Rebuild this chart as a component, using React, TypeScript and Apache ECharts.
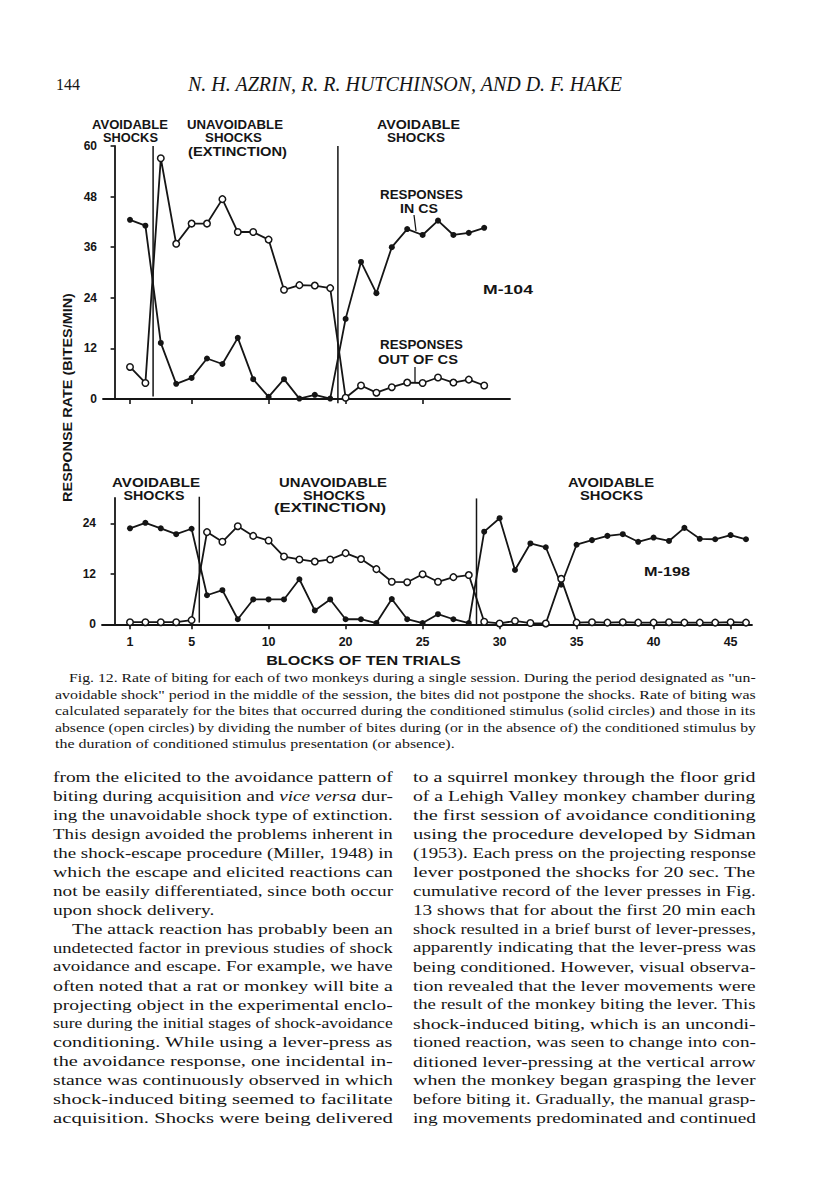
import React, { useEffect, useRef } from "react";
import * as echarts from "echarts";

// ---------------- data ----------------
// M-104 (upper panel), blocks 1..24
const topInCS = [42.5, 41.1, 13.3, 3.6, 5.0, 9.6, 8.3, 14.5, 4.7, 0.5, 4.7, 0.1, 1.0, 0.1, 19.0, 32.5, 25.1, 36.0, 40.3, 38.9, 42.3, 38.9, 39.4, 40.6];
const topOutCS = [7.6, 3.8, 57.1, 36.8, 41.6, 41.6, 47.4, 39.6, 39.6, 37.8, 25.9, 27.0, 26.9, 26.3, 0.3, 3.2, 1.5, 2.8, 3.9, 3.8, 5.1, 3.9, 4.6, 3.2];
// M-198 (lower panel), blocks 1..41
const bottomInCS = [22.8, 24.1, 22.8, 21.4, 22.7, 6.9, 8.1, 1.2, 5.9, 5.9, 5.9, 10.7, 3.3, 5.9, 1.2, 1.2, 0.3, 6.0, 1.2, 0.3, 2.4, 1.2, 0.3, 22.0, 25.2, 12.9, 19.2, 18.3, 9.4, 18.9, 20.0, 21.0, 21.4, 19.6, 20.6, 19.8, 22.9, 20.3, 20.2, 21.2, 20.2];
const bottomOutCS = [0.5, 0.5, 0.5, 0.5, 1.0, 21.9, 19.6, 23.3, 21.0, 19.9, 16.1, 15.4, 14.9, 15.4, 16.9, 15.5, 13.1, 10.1, 10.0, 11.9, 10.1, 11.2, 11.7, 0.6, 0.2, 0.8, 0.3, 0.2, 10.8, 0.4, 0.5, 0.4, 0.5, 0.4, 0.4, 0.5, 0.4, 0.4, 0.4, 0.5, 0.4];

const topTickBlocks = [1, 5, 10, 15, 20];
const bottomTickBlocks = [1, 5, 10, 15, 20, 25, 30, 35, 40];
const bottomTickLabels = ["1", "5", "10", "20", "25", "30", "35", "40", "45"];
const topYTicks = [0, 12, 24, 36, 48, 60];
const bottomYTicks = [0, 12, 24];

// phase boundaries (block position, [low, high] extent)
const topPhaseBreaks = [2.5, 14.5];
const topBreakSpans = [[0.6, 60], [-1, 60]];
const bottomPhaseBreaks = [5.5, 23.5];
const bottomBreakSpans = [[0.4, 30.3], [-0.3, 29.9]];

// ---------------- page text ----------------
const pageNumber = "144";
const runningHead = "N. H. AZRIN, R. R. HUTCHINSON, AND D. F. HAKE";
const yTitle = "RESPONSE RATE (BITES/MIN)";
const xTitle = "BLOCKS OF TEN TRIALS";

const captionLines = [
  'Fig. 12. Rate of biting for each of two monkeys during a single session. During the period designated as "un-',
  'avoidable shock" period in the middle of the session, the bites did not postpone the shocks. Rate of biting was',
  "calculated separately for the bites that occurred during the conditioned stimulus (solid circles) and those in its",
  "absence (open circles) by dividing the number of bites during (or in the absence of) the conditioned stimulus by",
  "the duration of conditioned stimulus presentation (or absence).",
];

const leftColumn = [
  "from the elicited to the avoidance pattern of",
  "biting during acquisition and *vice versa* dur-",
  "ing the unavoidable shock type of extinction.",
  "This design avoided the problems inherent in",
  "the shock-escape procedure (Miller, 1948) in",
  "which the escape and elicited reactions can",
  "not be easily differentiated, since both occur",
  "upon shock delivery.",
  "The attack reaction has probably been an",
  "undetected factor in previous studies of shock",
  "avoidance and escape. For example, we have",
  "often noted that a rat or monkey will bite a",
  "projecting object in the experimental enclo-",
  "sure during the initial stages of shock-avoidance",
  "conditioning. While using a lever-press as",
  "the avoidance response, one incidental in-",
  "stance was continuously observed in which",
  "shock-induced biting seemed to facilitate",
  "acquisition. Shocks were being delivered",
];

const rightColumn = [
  "to a squirrel monkey through the floor grid",
  "of a Lehigh Valley monkey chamber during",
  "the first session of avoidance conditioning",
  "using the procedure developed by Sidman",
  "(1953). Each press on the projecting response",
  "lever postponed the shocks for 20 sec. The",
  "cumulative record of the lever presses in Fig.",
  "13 shows that for about the first 20 min each",
  "shock resulted in a brief burst of lever-presses,",
  "apparently indicating that the lever-press was",
  "being conditioned. However, visual observa-",
  "tion revealed that the lever movements were",
  "the result of the monkey biting the lever. This",
  "shock-induced biting, which is an uncondi-",
  "tioned reaction, was seen to change into con-",
  "ditioned lever-pressing at the vertical arrow",
  "when the monkey began grasping the lever",
  "before biting it. Gradually, the manual grasp-",
  "ing movements predominated and continued",
];

const INK = "#151515";
const SANS = "Liberation Sans, Arial, sans-serif";
const SERIF = "Liberation Serif, Times New Roman, serif";

export default function App() {
  const ref = useRef<HTMLDivElement>(null);

  useEffect(() => {
    const el = ref.current;
    if (!el) return;
    const chart = echarts.init(el, null, { renderer: "svg", width: 816, height: 1200 });

    const canvas = document.createElement("canvas");
    const ctx = canvas.getContext("2d") as CanvasRenderingContext2D;
    const measure = (t: string, font: string) => {
      ctx.font = font;
      return ctx.measureText(t).width;
    };
    const parseSegs = (line: string) =>
      line
        .split("*")
        .map((t, i) => ({ t, it: i % 2 === 1 }))
        .filter((s) => s.t.length > 0);

    const els: any[] = [];

    const addBlock = (
      lines: string[],
      x0: number,
      y0: number,
      lh: number,
      W: number,
      size: number,
      noJustify: number[],
      indents: Record<number, number>
    ) => {
      const fN = `${size}px ${SERIF}`;
      const fI = `italic ${size}px ${SERIF}`;
      const widths = lines.map((l) =>
        parseSegs(l).reduce((a, s) => a + measure(s.t, s.it ? fI : fN), 0)
      );
      const ks = lines
        .map((_, i) => (W - (indents[i] || 0)) / widths[i])
        .filter((_, i) => noJustify.indexOf(i) < 0)
        .sort((a, b) => a - b);
      const k0 = ks[Math.floor(ks.length / 2)];
      lines.forEach((l, i) => {
        const ind = indents[i] || 0;
        const k = noJustify.indexOf(i) >= 0 ? k0 : (W - ind) / widths[i];
        const segs = parseSegs(l);
        const hasIt = segs.some((s) => s.it);
        const text = segs.map((s) => (s.it ? `{i|${s.t}}` : s.t)).join("");
        const style: any = {
          text,
          fontSize: size,
          fontFamily: SERIF,
          fill: INK,
          align: "left",
          verticalAlign: "middle",
          textAlign: "left",
          textVerticalAlign: "middle",
        };
        if (hasIt) {
          style.rich = {
            i: { fontStyle: "italic", fontSize: size, fontFamily: SERIF, fill: INK },
          };
        }
        els.push({ type: "text", x: x0 + ind, y: y0 + i * lh, scaleX: k, silent: true, z: 10, style });
      });
    };

    // running head
    els.push({
      type: "text", x: 56, y: 84, silent: true,
      style: { text: pageNumber, fontSize: 16, fontFamily: SERIF, fill: INK, align: "left", verticalAlign: "middle", textAlign: "left", textVerticalAlign: "middle" },
    });
    const headW = measure(runningHead, `italic 17px ${SERIF}`);
    const headSize = Math.max(14, Math.min(20, (17 * 456) / headW));
    els.push({
      type: "text", x: 405, y: 84, silent: true,
      style: { text: runningHead, fontSize: headSize, fontStyle: "italic", fontFamily: SERIF, fill: INK, align: "center", verticalAlign: "middle", textAlign: "center", textVerticalAlign: "middle" },
    });

    // chart annotations: centre x, y, font size, printed width
    const lab = (text: string, x: number, y: number, size: number, w: number, rotation = 0) => {
      const nat = measure(text, `bold ${size}px ${SANS}`);
      els.push({
        type: "text", x, y, rotation, scaleX: w / nat, silent: true, z: 5,
        style: { text, fontSize: size, fontWeight: "bold", fontFamily: SANS, fill: INK, align: "center", verticalAlign: "middle", textAlign: "center", textVerticalAlign: "middle" },
      });
    };
    // upper panel
    lab("AVOIDABLE", 130, 125, 12.5, 76);
    lab("SHOCKS", 130.5, 138, 12.5, 55);
    lab("UNAVOIDABLE", 235, 125, 12.5, 96);
    lab("SHOCKS", 233.5, 138, 12.5, 57);
    lab("(EXTINCTION)", 237.5, 152, 12.5, 99);
    lab("AVOIDABLE", 418.5, 125, 12.5, 83);
    lab("SHOCKS", 416, 138, 12.5, 58);
    lab("RESPONSES", 421.5, 195, 12.5, 83);
    lab("IN CS", 419, 209, 12.5, 38);
    lab("M-104", 508, 290, 12.5, 50);
    lab("RESPONSES", 421.5, 345, 12.5, 83);
    lab("OUT OF CS", 418, 360, 12.5, 80);
    // lower panel
    lab("AVOIDABLE", 156, 482, 13.5, 88);
    lab("SHOCKS", 154, 495, 13.5, 61);
    lab("UNAVOIDABLE", 333, 482, 13.5, 108);
    lab("SHOCKS", 334, 495, 13.5, 62);
    lab("(EXTINCTION)", 330, 507, 13.5, 112);
    lab("AVOIDABLE", 611, 482, 13.5, 86);
    lab("SHOCKS", 611.5, 495, 13.5, 63);
    lab("M-198", 667, 572, 13, 46);
    lab(xTitle, 363.5, 660, 13.5, 195);
    lab(yTitle, 68, 397.5, 13, 209, Math.PI / 2);
    // pointer lines from labels to curves
    els.push({ type: "line", silent: true, shape: { x1: 414, y1: 215, x2: 416, y2: 231 }, style: { stroke: INK, lineWidth: 1.3 } });
    els.push({ type: "line", silent: true, shape: { x1: 415, y1: 367, x2: 415, y2: 382 }, style: { stroke: INK, lineWidth: 1.3 } });

    // caption and body text
    addBlock(captionLines, 55, 678, 16.5, 701, 12.5, [4], { 0: 14 });
    addBlock(leftColumn, 53, 777, 18.95, 340, 15.5, [7], { 8: 19 });
    addBlock(rightColumn, 413, 777, 18.95, 343, 15.5, [], {});

    const axisFont = { fontSize: 12, fontWeight: "bold" as const, fontFamily: SANS, color: INK };
    const lineW = 1.8;

    const dataSeries = (vals: number[], axis: number, open: boolean) => ({
      type: "line",
      xAxisIndex: axis,
      yAxisIndex: axis,
      data: vals.map((v, i) => [i + 1, v]),
      symbol: "circle",
      symbolSize: open ? 6.5 : 6,
      showAllSymbol: true,
      silent: true,
      z: open ? 4 : 3,
      lineStyle: { color: INK, width: lineW },
      itemStyle: open
        ? { color: "#ffffff", borderColor: INK, borderWidth: 1.5 }
        : { color: INK, borderColor: INK, borderWidth: 0 },
      emphasis: { disabled: true },
    });
    const breakSeries = (pos: number, span: number[], axis: number) => ({
      type: "line",
      xAxisIndex: axis,
      yAxisIndex: axis,
      data: [[pos, span[0]], [pos, span[1]]],
      symbol: "none",
      clip: false,
      silent: true,
      z: 2,
      lineStyle: { color: INK, width: 1.5 },
      emphasis: { disabled: true },
    });

    const option: any = {
      animation: false,
      backgroundColor: "#ffffff",
      grid: [
        { left: 103, top: 146, width: 407, height: 253, outerBoundsMode: "none", containLabel: false },
        { left: 102, top: 498, width: 650, height: 126.3, outerBoundsMode: "none", containLabel: false },
      ],
      xAxis: [
        {
          type: "value", gridIndex: 0, min: -0.753, max: 25.675,
          axisLine: { onZero: false, lineStyle: { color: INK, width: lineW } },
          axisTick: { show: true, customValues: topTickBlocks, length: 5, lineStyle: { color: INK, width: 1.6 } },
          axisLabel: { show: false },
          splitLine: { show: false },
        },
        {
          type: "value", gridIndex: 1, min: -0.818, max: 41.39,
          axisLine: { onZero: false, lineStyle: { color: INK, width: lineW } },
          axisTick: { show: true, customValues: bottomTickBlocks, length: 5, lineStyle: { color: INK, width: 1.6 } },
          axisLabel: {
            ...axisFont,
            fontSize: 12.5,
            margin: 11,
            customValues: bottomTickBlocks,
            formatter: (v: number) => {
              const idx = bottomTickBlocks.indexOf(Math.round(v));
              return idx >= 0 ? bottomTickLabels[idx] : "";
            },
          },
          splitLine: { show: false },
        },
      ],
      yAxis: [
        {
          type: "value", gridIndex: 0, min: 0, max: 60, interval: 12,
          axisLine: { show: true, lineStyle: { color: INK, width: lineW } },
          axisTick: { show: true, customValues: topYTicks, length: 4, lineStyle: { color: INK, width: 1.6 } },
          axisLabel: { ...axisFont, margin: 6, customValues: topYTicks },
          splitLine: { show: false },
        },
        {
          type: "value", gridIndex: 1, min: 0, max: 30,
          axisLine: { show: true, lineStyle: { color: INK, width: lineW } },
          axisTick: { show: true, customValues: bottomYTicks, length: 4, lineStyle: { color: INK, width: 1.6 } },
          axisLabel: { ...axisFont, margin: 6, customValues: bottomYTicks },
          splitLine: { show: false },
        },
      ],
      series: [
        ...topPhaseBreaks.map((p, i) => breakSeries(p, topBreakSpans[i], 0)),
        ...bottomPhaseBreaks.map((p, i) => breakSeries(p, bottomBreakSpans[i], 1)),
        dataSeries(topInCS, 0, false),
        dataSeries(topOutCS, 0, true),
        dataSeries(bottomInCS, 1, false),
        dataSeries(bottomOutCS, 1, true),
      ],
      graphic: { elements: els },
    };

    chart.setOption(option);
    return () => chart.dispose();
  }, []);

  return (
    <div
      ref={ref}
      style={{ position: "absolute", left: 0, top: 0, width: 816, height: 1200, background: "#ffffff" }}
    />
  );
}
